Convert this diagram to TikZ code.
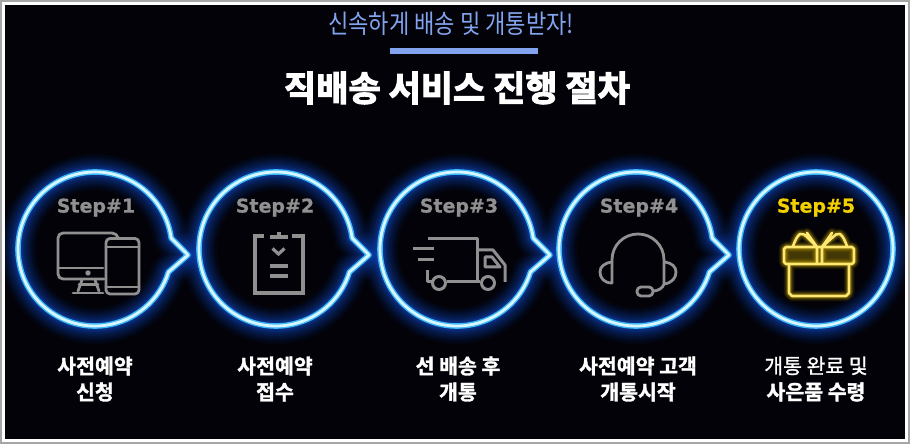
\documentclass[tikz,border=0pt]{standalone}
\usepackage{fontspec}
\newfontfamily\krfont{Noto Sans CJK KR}
\newfontfamily\krbold[FakeBold=1.6]{Noto Sans CJK KR Bold}
\newfontfamily\krmed[FakeBold=1.3]{Noto Sans CJK KR}
\newfontfamily\krheavy[FakeBold=3.2]{Noto Sans CJK KR Bold}
\newfontfamily\stepfont[FakeBold=0.5]{DejaVu Sans Bold}
\definecolor{bgk}{HTML}{020208}
\definecolor{glowb}{HTML}{1250D8}
\definecolor{ringm}{HTML}{3CB8F5}
\definecolor{ringc}{HTML}{D8F6FF}
\definecolor{icong}{HTML}{909090}
\definecolor{peri}{HTML}{82A4EE}
\definecolor{stepy}{HTML}{F2D000}
\definecolor{gifty}{HTML}{FFE870}
\definecolor{gifto}{HTML}{D8B400}
\tikzset{
  steptext/.style={font=\stepfont\fontsize{19}{19}\selectfont,text=icong,inner sep=0pt},
  lab/.style={font=\krbold\fontsize{20.5}{26}\selectfont,text=white,align=center,inner sep=0pt},
  ic/.style={x=1pt,y=-1pt,shift={(0,444pt)},draw=icong,line width=2.8pt,line cap=round,line join=round}
}
\newcommand{\pointerpath}{(8.2:77) arc[start angle=8.2,end angle=342.6,radius=77] -- (93,-6) -- cycle}
\newcommand{\circlepath}{(0,0) circle[radius=77]}
\newcommand{\glowstack}[1]{%
  \foreach \w/\o in {36/.05,32/.06,28/.07,24/.08,20/.10,16/.12,12/.16,9/.22}{
    \draw[glowb,line width=\w pt,opacity=\o,line join=round] #1;}}
\newcommand{\corestack}[1]{%
  \draw[ringm,line width=5.6pt,line join=round] #1;
  \draw[ringc,line width=2.8pt,line join=round] #1;}
\begin{document}
\begin{tikzpicture}[x=1pt,y=1pt]
\useasboundingbox (0,0) rectangle (910,444);
\fill[white] (0,0) rectangle (910,444);
\draw[gray!70,line width=2pt] (1,1) rectangle (909,443);
\fill[bgk] (5,5) rectangle (905,439);
\begin{scope}
\clip (5,5) rectangle (905,439);
\foreach \c in {95,276,457,636}{\begin{scope}[shift={(\c,195)}]\glowstack{\pointerpath}\end{scope}}
\begin{scope}[shift={(816,195)}]\glowstack{\circlepath}\end{scope}
\foreach \c in {95,276,457,636}{\begin{scope}[shift={(\c,195)}]\corestack{\pointerpath}\end{scope}}
\begin{scope}[shift={(816,195)}]\corestack{\circlepath}\end{scope}
\end{scope}
% heading
\node[font=\krfont\fontsize{26}{26}\selectfont,text=peri,inner sep=0pt] (sub) at (451,420) {\scalebox{0.85}[1]{신속하게 배송 및 개통받자!}};
\fill[peri] (390,390) rectangle (538,396);
\node[font=\krheavy\fontsize{35}{35}\selectfont,text=white,inner sep=0pt] (title) at (457,356) {직배송 서비스 진행 절차};
% steps
\node[steptext] (s1) at (96,236.5) {Step\#1};
\node[steptext] (s2) at (275,236.5) {Step\#2};
\node[steptext] (s3) at (459,236.5) {Step\#3};
\node[steptext] (s4) at (639,236.5) {Step\#4};
\node[steptext,text=stepy] (s5) at (816,236.5) {Step\#5};
% labels
\node[lab] (l1) at (95,65) {사전예약\\신청};
\node[lab] (l2) at (275,65) {사전예약\\접수};
\node[lab] (l3) at (458,65) {선 배송 후\\개통};
\node[lab] (l4) at (638,65) {사전예약 고객\\개통시작};
\node[lab] (l5) at (816,65) {{\krmed 개통 완료 및}\\사은품 수령};
% icon 1
\begin{scope}[ic]
\draw[rounded corners=5pt] (104,279) -- (58,279) -- (58,233) -- (117,233) -- (118,237);
\draw (58,268) -- (103,268);
\fill[icong,draw=none] (88,273) circle[radius=2.7pt];
\draw (82,280) -- (78,291); \draw (95,280) -- (99,291); \draw (79,284.5) -- (98,284.5);
\draw (73,293) -- (103,293);
\draw[rounded corners=4pt] (106,238.5) rectangle (139,294);
\draw (106,247) -- (139,247); \draw (106,287) -- (139,287);
\end{scope}
% icon 2
\begin{scope}[ic,line width=3.2pt,line cap=butt,line join=miter]
\draw (264,236) -- (255,236) -- (255,293) -- (303,293) -- (303,236) -- (292,236);
\draw (270,237) -- (288,237); \draw (279,232) -- (279,237);
\draw (272.5,248.5) -- (278.5,254) -- (284.5,248.5);
\draw (270,266) -- (288,266); \draw (270,276) -- (288,276);
\end{scope}
% icon 3
\begin{scope}[ic,line width=3pt,line cap=butt]
\draw (428,239) -- (477,239) -- (477,282) -- (447,282);
\draw (480,282) -- (477,282);
\draw (427,270) -- (427,282) -- (432,282);
\draw (413,249) -- (434,249); \draw (418,260) -- (434,260);
\draw (439,283) circle[radius=6.5pt]; \draw (488,283) circle[radius=6.5pt];
\draw (477,250) -- (493,250) -- (505,265) -- (505,282);
\draw (485,257) -- (492,257) -- (500,267) -- (485,267) -- cycle;
\end{scope}
% icon 4
\begin{scope}[ic]
\draw (612,283) -- (612,260) .. controls (612,245) and (624,234) .. (638,234) .. controls (652,234) and (664,245) .. (664,260) -- (664,283);
\draw (612,262) .. controls (604,263) and (600,267) .. (600,272) .. controls (600,278) and (604,283) .. (612,283);
\draw (665,262) .. controls (672,263) and (676,267) .. (676,272) .. controls (676,278) and (672,283) .. (664,284) .. controls (663,288) and (658,291) .. (653,291);
\draw[rounded corners=4pt] (637,287) rectangle (653,296);
\end{scope}
% icon 5
\begin{scope}[x=1pt,y=-1pt,shift={(0,444pt)},line cap=round,line join=round]
\fill[gifto,opacity=.3] (785,248) rectangle (853,263);
\newcommand{\giftpath}{(793,246) .. controls (795,241) and (797,236) .. (800,234) .. controls (803,233) and (805,235) .. (807,237) -- (817,247)
 (847,246) .. controls (845,241) and (843,236) .. (840,234) .. controls (837,233) and (835,235) .. (833,237) -- (822,247)
 (807,233) -- (817,247) (832,233) -- (822,247)
 (786,247) -- (852,247) -- (854,249) -- (854,262) -- (852,264) -- (786,264) -- (784,262) -- (784,249) -- cycle
 (817,248) -- (817,263) (822,248) -- (822,263)
 (789,265) -- (789,293) -- (792,296) -- (846,296) -- (849,293) -- (849,265)}
\foreach \w/\o in {11/.08,9/.1,7/.14,5.5/.2}{\draw[gifto,line width=\w pt,opacity=\o] \giftpath;}
\draw[gifty,line width=2.6pt] \giftpath;
\end{scope}
\end{tikzpicture}
\end{document}
